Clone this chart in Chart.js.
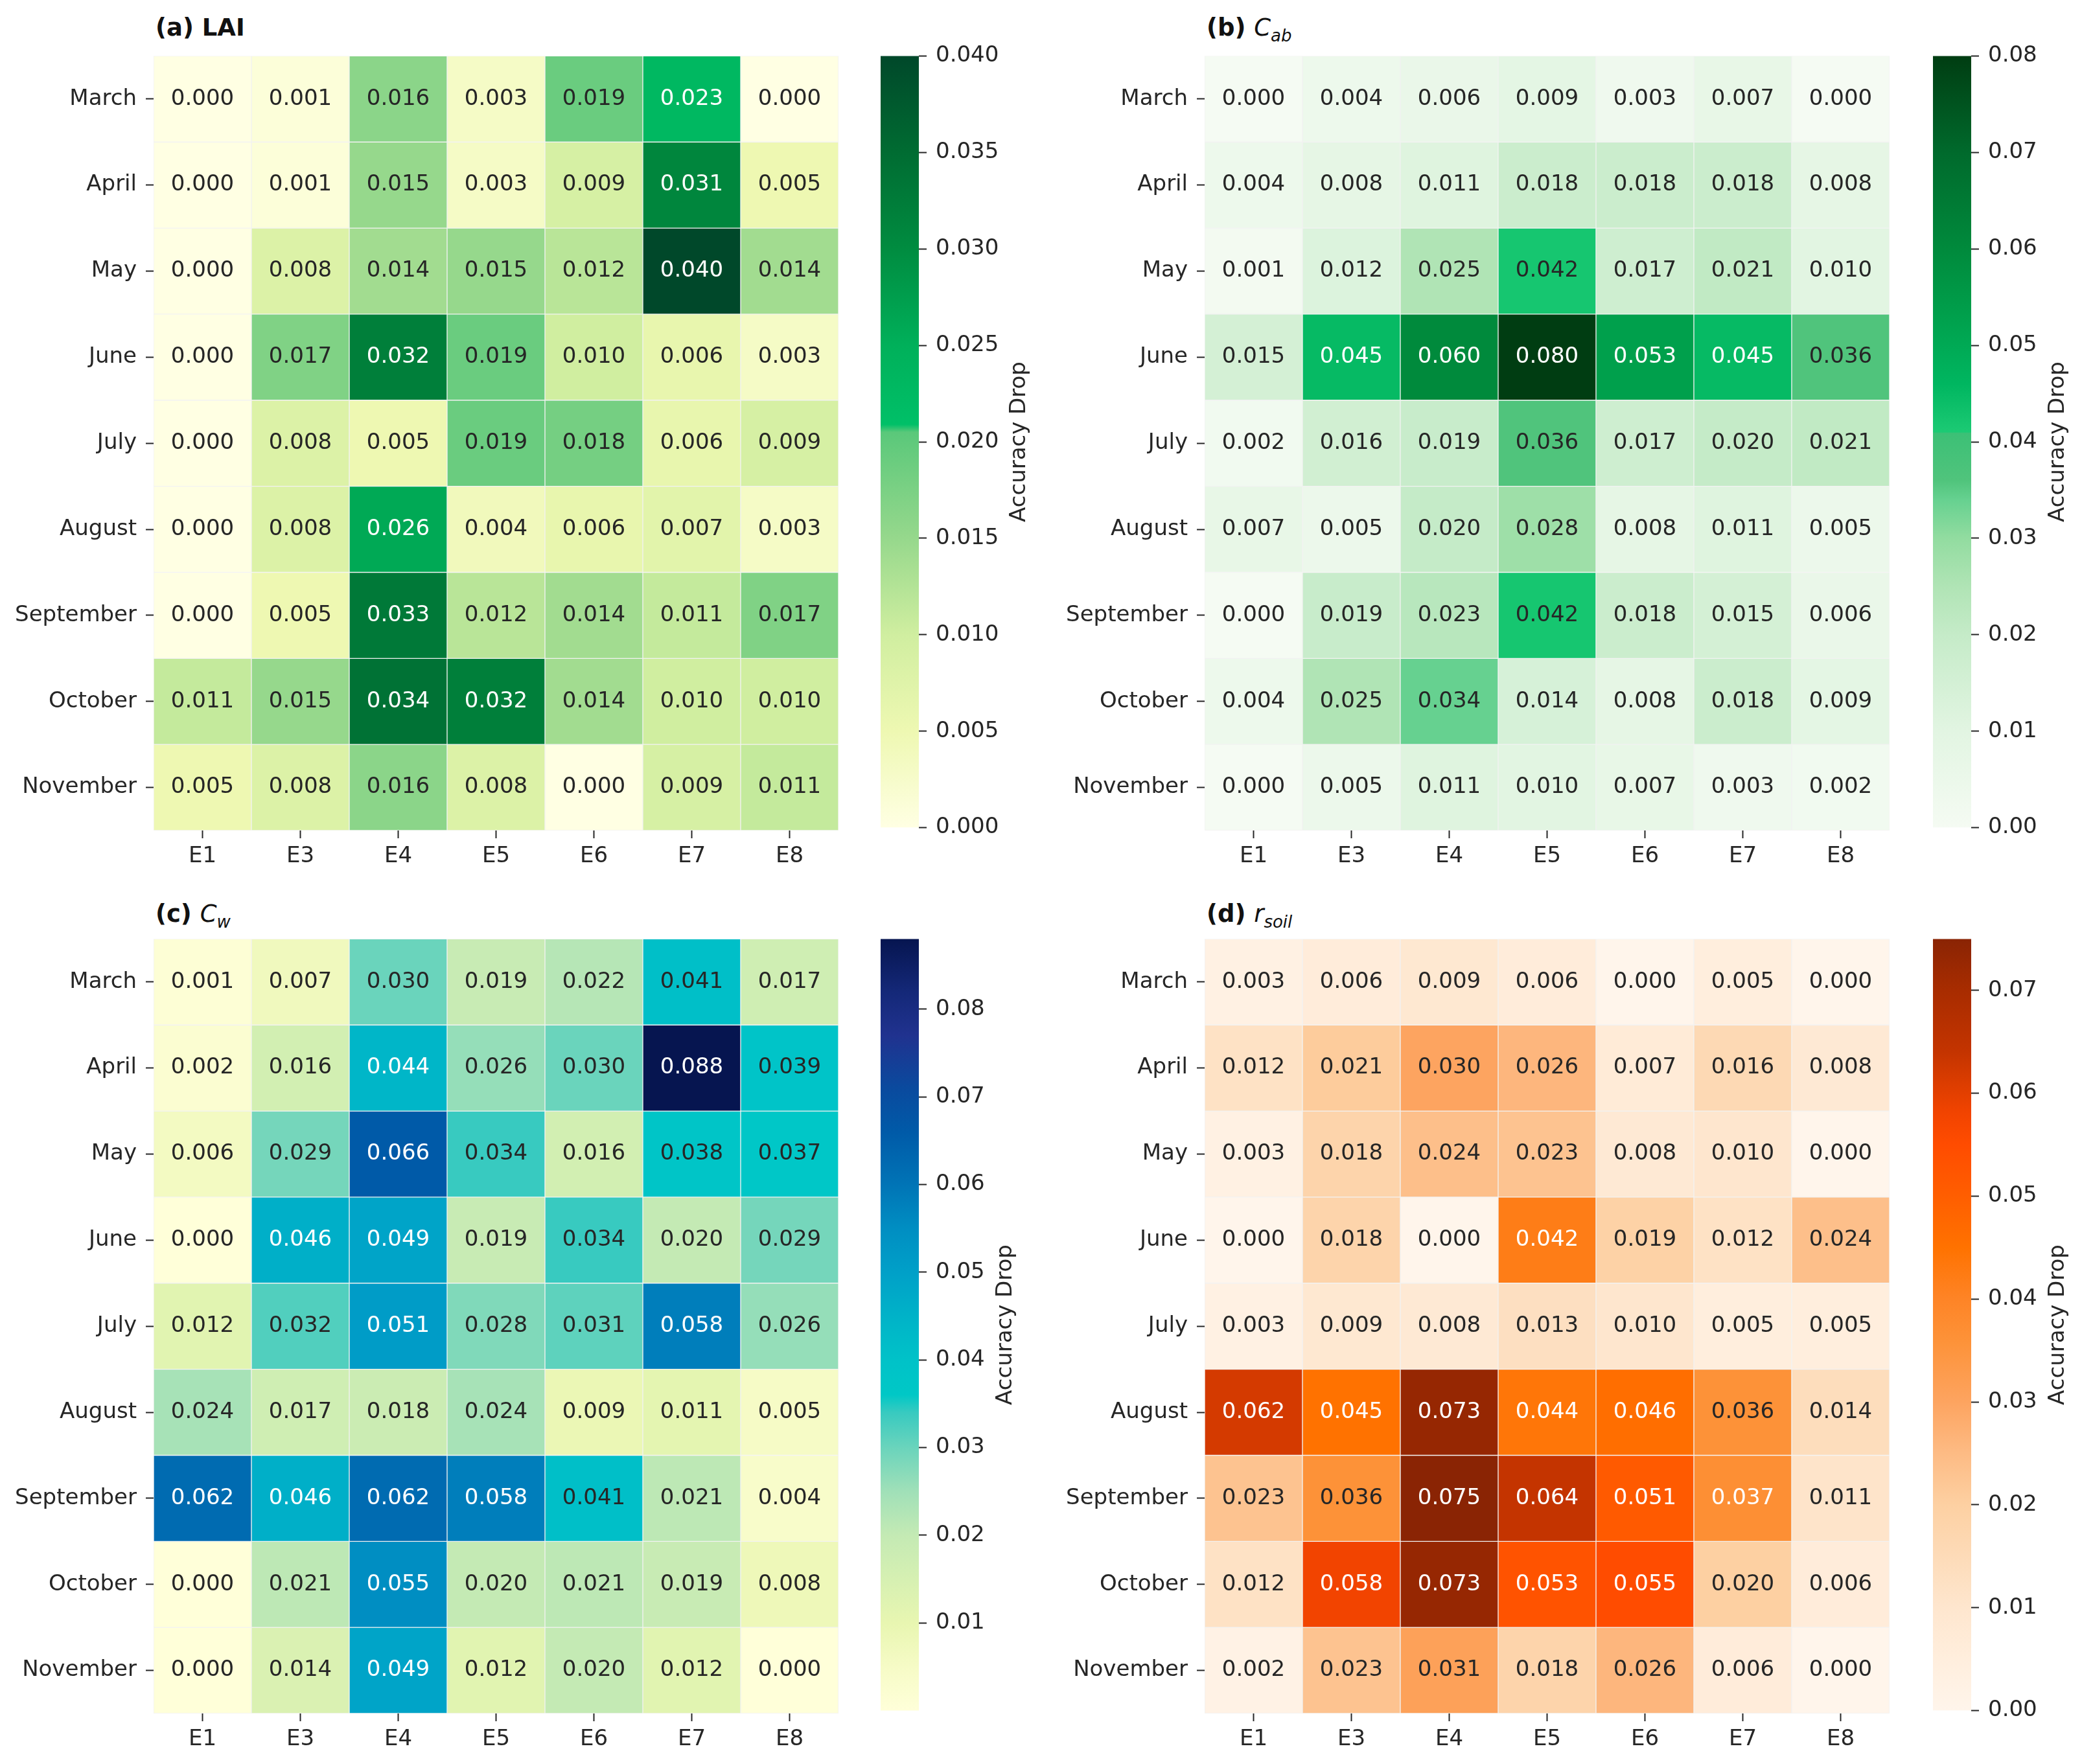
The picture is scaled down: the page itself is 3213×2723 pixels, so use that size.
<!DOCTYPE html>
<html>
<head>
<meta charset="utf-8">
<script src="https://cdn.jsdelivr.net/npm/chart.js@4.4.1/dist/chart.umd.min.js"></script>
<style>
  body { margin: 0; background: #fff; width: 3213px; height: 2723px; position: relative; overflow: hidden; font-family: "DejaVu Sans", sans-serif; }
  canvas { position: absolute; }
  .title { position: absolute; font-size: 37px; font-weight: bold; color: #111; line-height: 1; white-space: nowrap; }
  .title i { font-weight: normal; }
  .title sub { font-size: 26px; font-style: italic; font-weight: normal; vertical-align: -9px; line-height: 0; }
</style>
</head>
<body>
<div class="title" style="left:240px; top:24px">(a) LAI</div>
<div class="title" style="left:1862px; top:24px">(b) <i>C</i><sub>ab</sub></div>
<div class="title" style="left:240px; top:1392px">(c) <i>C</i><sub>w</sub></div>
<div class="title" style="left:1862px; top:1392px">(d) <i>r</i><sub>soil</sub></div>
<script>
// Data ------------------------------------------------------------

const months = ['March', 'April', 'May', 'June', 'July', 'August', 'September', 'October', 'November'];
const experiments = ['E1', 'E3', 'E4', 'E5', 'E6', 'E7', 'E8'];

const laiDrop = [
  [0.000, 0.001, 0.016, 0.003, 0.019, 0.023, 0.000],
  [0.000, 0.001, 0.015, 0.003, 0.009, 0.031, 0.005],
  [0.000, 0.008, 0.014, 0.015, 0.012, 0.040, 0.014],
  [0.000, 0.017, 0.032, 0.019, 0.010, 0.006, 0.003],
  [0.000, 0.008, 0.005, 0.019, 0.018, 0.006, 0.009],
  [0.000, 0.008, 0.026, 0.004, 0.006, 0.007, 0.003],
  [0.000, 0.005, 0.033, 0.012, 0.014, 0.011, 0.017],
  [0.011, 0.015, 0.034, 0.032, 0.014, 0.010, 0.010],
  [0.005, 0.008, 0.016, 0.008, 0.000, 0.009, 0.011]
];
const cabDrop = [
  [0.000, 0.004, 0.006, 0.009, 0.003, 0.007, 0.000],
  [0.004, 0.008, 0.011, 0.018, 0.018, 0.018, 0.008],
  [0.001, 0.012, 0.025, 0.042, 0.017, 0.021, 0.010],
  [0.015, 0.045, 0.060, 0.080, 0.053, 0.045, 0.036],
  [0.002, 0.016, 0.019, 0.036, 0.017, 0.020, 0.021],
  [0.007, 0.005, 0.020, 0.028, 0.008, 0.011, 0.005],
  [0.000, 0.019, 0.023, 0.042, 0.018, 0.015, 0.006],
  [0.004, 0.025, 0.034, 0.014, 0.008, 0.018, 0.009],
  [0.000, 0.005, 0.011, 0.010, 0.007, 0.003, 0.002]
];
const cwDrop = [
  [0.001, 0.007, 0.030, 0.019, 0.022, 0.041, 0.017],
  [0.002, 0.016, 0.044, 0.026, 0.030, 0.088, 0.039],
  [0.006, 0.029, 0.066, 0.034, 0.016, 0.038, 0.037],
  [0.000, 0.046, 0.049, 0.019, 0.034, 0.020, 0.029],
  [0.012, 0.032, 0.051, 0.028, 0.031, 0.058, 0.026],
  [0.024, 0.017, 0.018, 0.024, 0.009, 0.011, 0.005],
  [0.062, 0.046, 0.062, 0.058, 0.041, 0.021, 0.004],
  [0.000, 0.021, 0.055, 0.020, 0.021, 0.019, 0.008],
  [0.000, 0.014, 0.049, 0.012, 0.020, 0.012, 0.000]
];
const rsoilDrop = [
  [0.003, 0.006, 0.009, 0.006, 0.000, 0.005, 0.000],
  [0.012, 0.021, 0.030, 0.026, 0.007, 0.016, 0.008],
  [0.003, 0.018, 0.024, 0.023, 0.008, 0.010, 0.000],
  [0.000, 0.018, 0.000, 0.042, 0.019, 0.012, 0.024],
  [0.003, 0.009, 0.008, 0.013, 0.010, 0.005, 0.005],
  [0.062, 0.045, 0.073, 0.044, 0.046, 0.036, 0.014],
  [0.023, 0.036, 0.075, 0.064, 0.051, 0.037, 0.011],
  [0.012, 0.058, 0.073, 0.053, 0.055, 0.020, 0.006],
  [0.002, 0.023, 0.031, 0.018, 0.026, 0.006, 0.000]
];

// colour bar ranges and tick labels
const laiRange = [0, 0.040];
const cabRange = [0, 0.080];
const cwRange = [0, 0.088];
const rsoilRange = [0, 0.075];
const laiTicks = [0, 0.005, 0.010, 0.015, 0.020, 0.025, 0.030, 0.035, 0.040];
const cabTicks = [0, 0.01, 0.02, 0.03, 0.04, 0.05, 0.06, 0.07, 0.08];
const cwTicks = [0.01, 0.02, 0.03, 0.04, 0.05, 0.06, 0.07, 0.08];
const rsoilTicks = [0, 0.01, 0.02, 0.03, 0.04, 0.05, 0.06, 0.07];

// Colour maps (value -> colour) --------------------------------------

const laiStops = [[0, '#ffffe3'], [0.005, '#eef8b2'], [0.010, '#d0eea0'], [0.015, '#96d88c'], [0.0205, '#5ac87a'],
  [0.0209, '#00c068'], [0.025, '#00b05a'], [0.030, '#008c40'], [0.035, '#006c32'], [0.040, '#00482a']];
const cabStops = [[0, '#f5fbf3'], [0.010, '#e2f5e2'], [0.020, '#c5ebc8'], [0.025, '#b0e4b5'], [0.030, '#92dca0'],
  [0.034, '#66d190'], [0.036, '#50c47c'], [0.0409, '#3cc076'], [0.041, '#1cca74'], [0.046, '#00b660'],
  [0.053, '#00a04c'], [0.060, '#008a3c'], [0.070, '#006a2c'], [0.080, '#003d12']];
const cwStops = [[0, '#ffffd9'], [0.005, '#f6fbc6'], [0.010, '#e8f6b1'], [0.015, '#d6f0b2'], [0.020, '#c4eab4'],
  [0.025, '#a0e0b8'], [0.030, '#6ad4bc'], [0.034, '#38cac0'], [0.036, '#00c8c6'], [0.040, '#00c2c8'],
  [0.044, '#00b6c8'], [0.050, '#00a0c8'], [0.055, '#008ec2'], [0.060, '#0074b6'], [0.066, '#005aa8'],
  [0.071, '#0a4a9e'], [0.077, '#20328f'], [0.082, '#142878'], [0.088, '#061550']];
const rsoilStops = [[0, '#fff5eb'], [0.005, '#ffeedd'], [0.010, '#fee6ce'], [0.015, '#fddbb8'], [0.020, '#fdd0a2'],
  [0.025, '#fdbb84'], [0.030, '#fda460'], [0.036, '#fd9238'], [0.040, '#fe8426'], [0.045, '#ff7200'],
  [0.050, '#ff5e00'], [0.055, '#ff4c00'], [0.058, '#f24400'], [0.062, '#d43a00'], [0.064, '#c43400'],
  [0.070, '#a82c00'], [0.075, '#8a2404']];

function hexRgb(h) {
  return [parseInt(h.slice(1, 3), 16), parseInt(h.slice(3, 5), 16), parseInt(h.slice(5, 7), 16)];
}

function cmap(stops, v) {
  if (v <= stops[0][0]) return hexRgb(stops[0][1]);
  for (let k = 1; k < stops.length; k++) {
    if (v <= stops[k][0]) {
      const a = hexRgb(stops[k - 1][1]), b = hexRgb(stops[k][1]);
      const t = (v - stops[k - 1][0]) / (stops[k][0] - stops[k - 1][0]);
      return a.map((c, n) => Math.round(c + (b[n] - c) * t));
    }
  }
  return hexRgb(stops[stops.length - 1][1]);
}

// same rule seaborn uses to pick annotation colour
function textColor(rgb) {
  const f = c => { c /= 255; return c <= 0.03928 ? c / 12.92 : Math.pow((c + 0.055) / 1.055, 2.4); };
  const l = 0.2126 * f(rgb[0]) + 0.7152 * f(rgb[1]) + 0.0722 * f(rgb[2]);
  return l > 0.408 ? '#262626' : '#ffffff';
}

// Layout ------------------------------------------------------------

const cellW = 151, cellH = 133.3;
const mapW = cellW * experiments.length, mapH = cellH * months.length;
const yAxisW = 236, xAxisH = 90, padTop = 30;
const tickColor = '#262626';

Chart.defaults.font.family = '"DejaVu Sans", sans-serif';
Chart.defaults.font.size = 34;
Chart.defaults.color = '#262626';

function addCanvas(left, top, w, h) {
  const c = document.createElement('canvas');
  c.width = w; c.height = h;
  c.style.left = left + 'px'; c.style.top = top + 'px';
  c.style.width = w + 'px'; c.style.height = h + 'px';
  document.body.appendChild(c);
  return c;
}

// Heatmap panel -----------------------------------------------------

function heatmap(values, stops, left, top) {
  const canvas = addCanvas(left - yAxisW, top - padTop, yAxisW + mapW + 10, Math.round(padTop + mapH + xAxisH));
  const fills = values.map(row => row.map(v => cmap(stops, v)));

  const cellText = {
    id: 'cellText',
    afterDatasetsDraw(chart) {
      const ctx = chart.ctx;
      ctx.save();
      ctx.font = '34px "DejaVu Sans"';
      ctx.textAlign = 'center';
      ctx.textBaseline = 'middle';
      chart.data.datasets.forEach((ds, i) => {
        chart.getDatasetMeta(i).data.forEach((bar, j) => {
          ctx.fillStyle = textColor(fills[i][j]);
          ctx.fillText(values[i][j].toFixed(3), bar.x, (bar.y + bar.base) / 2);
        });
      });
      ctx.restore();
    }
  };

  return new Chart(canvas, {
    type: 'bar',
    data: {
      labels: experiments,
      datasets: months.map((m, i) => ({
        label: m,
        data: experiments.map(() => [i, i + 1]),
        backgroundColor: fills[i].map(c => 'rgb(' + c.join(',') + ')'),
        borderColor: '#f2f2f2',
        borderWidth: 1,
        borderSkipped: false,
        grouped: false,
        barPercentage: 1,
        categoryPercentage: 1
      }))
    },
    options: {
      responsive: false,
      devicePixelRatio: 1,
      animation: false,
      layout: { padding: { left: 0, top: padTop, right: 10, bottom: 0 } },
      plugins: { legend: { display: false }, tooltip: { enabled: false } },
      scales: {
        x: {
          type: 'category',
          offset: true,
          grid: { drawOnChartArea: false, offset: false, tickLength: 12, tickWidth: 2, tickColor: tickColor },
          border: { display: false },
          ticks: { padding: 8, maxRotation: 0, autoSkip: false },
          afterFit: s => { s.height = xAxisH; }
        },
        y: {
          type: 'linear',
          min: 0,
          max: months.length,
          reverse: true,
          afterBuildTicks: s => { s.ticks = months.map((m, i) => ({ value: i + 0.5 })); },
          grid: { drawOnChartArea: false, tickLength: 12, tickWidth: 2, tickColor: tickColor },
          border: { display: false },
          ticks: { padding: 14, autoSkip: false, callback: (v, i) => months[i] },
          afterFit: s => { s.width = yAxisW; }
        }
      }
    },
    plugins: [cellText]
  });
}

// Colour bar ----------------------------------------------------------

function colorbar(range, ticks, decimals, stops, left, top) {
  const W = 260, barW = 59;
  const canvas = addCanvas(left, top - padTop, W, Math.round(padTop + mapH + padTop));

  const barLabel = {
    id: 'barLabel',
    afterDraw(chart) {
      const { ctx, chartArea } = chart;
      ctx.save();
      ctx.font = '34px "DejaVu Sans"';
      const widest = Math.max(...ticks.map(v => ctx.measureText(v.toFixed(decimals)).width));
      const x = chartArea.right + 12 + 14 + widest + 32;
      ctx.translate(x, (chartArea.top + chartArea.bottom) / 2);
      ctx.rotate(-Math.PI / 2);
      ctx.textAlign = 'center';
      ctx.textBaseline = 'middle';
      ctx.fillStyle = '#262626';
      ctx.fillText('Accuracy Drop', 0, 0);
      ctx.restore();
    }
  };

  return new Chart(canvas, {
    type: 'bar',
    data: {
      labels: [''],
      datasets: [{
        data: [[range[0], range[1]]],
        backgroundColor: c => {
          const area = c.chart.chartArea;
          if (!area) return null;
          const g = c.chart.ctx.createLinearGradient(0, area.bottom, 0, area.top);
          stops.forEach(([v, col]) => g.addColorStop((v - range[0]) / (range[1] - range[0]), col));
          return g;
        },
        borderWidth: 0,
        barPercentage: 1,
        categoryPercentage: 1
      }]
    },
    options: {
      responsive: false,
      devicePixelRatio: 1,
      animation: false,
      layout: { padding: { left: 0, top: padTop, right: 0, bottom: padTop } },
      plugins: { legend: { display: false }, tooltip: { enabled: false } },
      scales: {
        x: { display: false },
        y: {
          position: 'right',
          min: range[0],
          max: range[1],
          afterBuildTicks: s => { s.ticks = ticks.map(v => ({ value: v })); },
          grid: { drawOnChartArea: false, tickLength: 12, tickWidth: 2, tickColor: tickColor },
          border: { display: false },
          ticks: { padding: 14, autoSkip: false, callback: v => v.toFixed(decimals) },
          afterFit: s => { s.width = W - barW; }
        }
      }
    },
    plugins: [barLabel]
  });
}

// Panels --------------------------------------------------------------

const topRow = 82, bottomRow = 1445;
const leftCol = 237, rightCol = 1859;

heatmap(laiDrop, laiStops, leftCol, topRow);
colorbar(laiRange, laiTicks, 3, laiStops, 1359, topRow);

heatmap(cabDrop, cabStops, rightCol, topRow);
colorbar(cabRange, cabTicks, 2, cabStops, 2983, topRow);

heatmap(cwDrop, cwStops, leftCol, bottomRow);
colorbar(cwRange, cwTicks, 2, cwStops, 1359, bottomRow);

heatmap(rsoilDrop, rsoilStops, rightCol, bottomRow);
colorbar(rsoilRange, rsoilTicks, 2, rsoilStops, 2983, bottomRow);
</script>
</body>
</html>
